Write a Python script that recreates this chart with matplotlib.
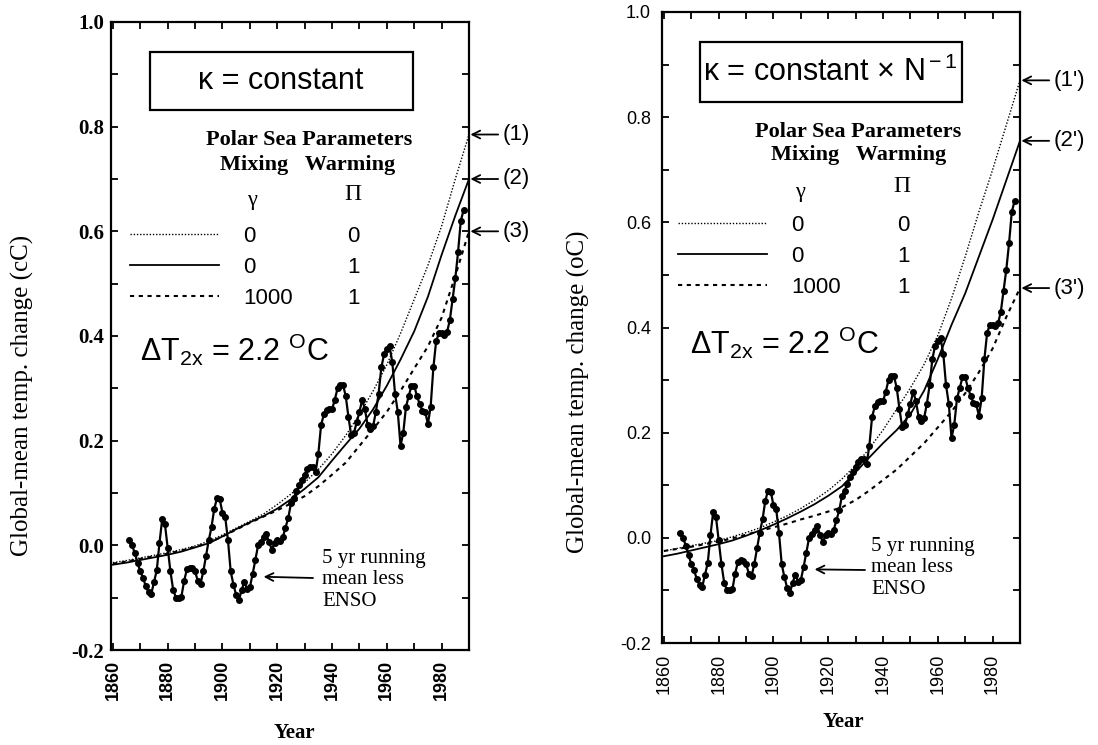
import matplotlib
matplotlib.use("Agg")
import matplotlib.pyplot as plt
from matplotlib.patches import Rectangle
from matplotlib.lines import Line2D
from matplotlib.ticker import MultipleLocator, FuncFormatter

# observed: 5 yr running mean less ENSO (same in both panels)
obs_years = list(range(1866, 1989))
obs_temp = [
    0.01, 0.0, -0.015, -0.033, -0.05, -0.062, -0.078, -0.09, -0.093, -0.07,      # 1866-1875
    -0.048, 0.005, 0.05, 0.04, -0.005, -0.05, -0.085, -0.1, -0.1, -0.098,       # 1876-1885
    -0.068, -0.046, -0.043, -0.044, -0.05, -0.068, -0.073, -0.05, -0.02, 0.01,  # 1886-1895
    0.035, 0.07, 0.09, 0.088, 0.062, 0.054, 0.01, -0.05, -0.075, -0.095,        # 1896-1905
    -0.105, -0.085, -0.07, -0.084, -0.08, -0.055, -0.028, 0.0, 0.007, 0.015,    # 1906-1915
    0.022, 0.006, -0.008, 0.005, 0.01, 0.008, 0.015, 0.034, 0.052, 0.08,        # 1916-1925
    0.09, 0.103, 0.115, 0.125, 0.135, 0.145, 0.15, 0.15, 0.14, 0.175,           # 1926-1935
    0.23, 0.25, 0.258, 0.26, 0.26, 0.278, 0.3, 0.307, 0.307, 0.285,             # 1936-1945
    0.245, 0.21, 0.215, 0.235, 0.255, 0.278, 0.26, 0.23, 0.222, 0.228,          # 1946-1955
    0.255, 0.29, 0.34, 0.365, 0.375, 0.38, 0.35, 0.29, 0.255, 0.19,             # 1956-1965
    0.215, 0.265, 0.285, 0.305, 0.305, 0.285, 0.27, 0.257, 0.255, 0.232,        # 1966-1975
    0.265, 0.34, 0.39, 0.405, 0.405, 0.402, 0.408, 0.43, 0.47, 0.51,            # 1976-1985
    0.56, 0.62, 0.64,                                                           # 1986-1988
]

# model runs, every 5 years 1860-1990
model_years = list(range(1860, 1991, 5))
# left: kappa = constant
left_dotted = [-0.033, -0.029, -0.024, -0.019, -0.014, -0.008, -0.001, 0.008, 0.02, 0.033,
               0.046, 0.06, 0.078, 0.098, 0.12, 0.145, 0.175, 0.21, 0.25, 0.295,
               0.345, 0.405, 0.47, 0.535, 0.61, 0.70, 0.785]
left_solid = [-0.037, -0.033, -0.028, -0.023, -0.018, -0.012, -0.004, 0.004, 0.017, 0.031,
              0.044, 0.056, 0.07, 0.088, 0.108, 0.13, 0.162, 0.193, 0.223, 0.26,
              0.305, 0.355, 0.409, 0.475, 0.555, 0.63, 0.70]
left_dashed = [-0.035, -0.031, -0.026, -0.021, -0.016, -0.01, -0.003, 0.005, 0.017, 0.03,
               0.043, 0.055, 0.067, 0.08, 0.094, 0.113, 0.135, 0.158, 0.19, 0.222,
               0.255, 0.295, 0.338, 0.38, 0.435, 0.515, 0.60]
# right: kappa = constant x N^-1
right_dotted = [-0.025, -0.02, -0.015, -0.01, -0.005, 0.002, 0.01, 0.019, 0.03, 0.042,
                0.056, 0.072, 0.09, 0.112, 0.138, 0.17, 0.205, 0.245, 0.285, 0.33,
                0.385, 0.455, 0.535, 0.62, 0.70, 0.785, 0.87]
right_solid = [-0.035, -0.03, -0.024, -0.018, -0.012, -0.005, 0.004, 0.014, 0.025, 0.037,
               0.05, 0.064, 0.08, 0.098, 0.125, 0.153, 0.18, 0.205, 0.235, 0.28,
               0.34, 0.405, 0.465, 0.535, 0.605, 0.68, 0.755]
right_dashed = [-0.025, -0.021, -0.017, -0.012, -0.007, -0.001, 0.006, 0.013, 0.02, 0.027,
                0.035, 0.042, 0.05, 0.058, 0.072, 0.09, 0.11, 0.13, 0.155, 0.18,
                0.21, 0.24, 0.275, 0.315, 0.36, 0.42, 0.475]

gamma_vals = ["0", "0", "1000"]
pi_vals = ["0", "1", "1"]
year_ticks = list(range(1860, 1981, 20))

W, H = 1098, 745
plt.rcParams['font.family'] = ['Liberation Sans', 'DejaVu Sans']
plt.rcParams['mathtext.fontset'] = 'custom'
plt.rcParams['mathtext.rm'] = 'Liberation Sans'
plt.rcParams['mathtext.it'] = 'Liberation Sans:italic'
plt.rcParams['mathtext.bf'] = 'Liberation Sans:bold'
plt.rcParams['axes.unicode_minus'] = False

SERIF = ['Liberation Serif', 'DejaVu Serif']

fig = plt.figure(figsize=(W / 100, H / 100), dpi=100)


def fp(x, y):
    # pixel position in the picture -> figure fraction
    return x / W, 1 - y / H


def panel(cfg, dotted, solid, dashed, end_labels):
    x0, y0, x1, y1 = cfg['rect']
    ax = fig.add_axes([x0 / W, 1 - y1 / H, (x1 - x0) / W, (y1 - y0) / H])
    ax.set_xlim(1859.3, 1990)
    ax.set_ylim(-0.2, 1.0)

    l1, = ax.plot(model_years, dotted, color='black', lw=1.0, linestyle=(0, (1, 1.3)))
    l2, = ax.plot(model_years, solid, color='black', lw=1.3)
    l3, = ax.plot(model_years, dashed, color='black', lw=1.5, linestyle=(0, (2, 2.2)))
    ax.plot(obs_years, obs_temp, color='black', lw=1.6, marker='o', ms=4)

    for sp in ax.spines.values():
        sp.set_linewidth(1.6)
    ax.xaxis.set_minor_locator(MultipleLocator(10))
    ax.yaxis.set_major_locator(MultipleLocator(0.2))
    ax.yaxis.set_minor_locator(MultipleLocator(0.1))
    ax.set_xticks(year_ticks)
    ax.yaxis.set_major_formatter(FuncFormatter(lambda v, p: f"{v:.1f}"))
    ax.tick_params(which='both', direction='in', top=True, right=True, length=5, width=1.3)
    ax.tick_params(axis='y', pad=cfg['ypad'])
    ax.tick_params(axis='x', pad=cfg['xpad'])
    for t in ax.get_yticklabels():
        t.set_fontfamily(cfg['yfont'])
        t.set_fontweight(cfg['yweight'])
        t.set_fontsize(cfg['ysize'])
    for t in ax.get_xticklabels():
        t.set_rotation(90)
        t.set_fontweight(cfg['xweight'])
        t.set_fontsize(13)

    fig.text(*fp(*cfg['ylabel_pos']), cfg['ylabel'], rotation=90, ha='center', va='center',
             family=SERIF, fontsize=18)
    fig.text(*fp(*cfg['year_pos']), "Year", ha='center', va='center', family=SERIF,
             fontweight='bold', fontsize=15)

    # title box
    bx0, by0, bx1, by1 = cfg['box']
    fig.patches.append(Rectangle(fp(bx0, by1), (bx1 - bx0) / W, (by1 - by0) / H,
                                 transform=fig.transFigure, fill=False, ec='black', lw=1.6))
    fig.text(*fp(*cfg['title_pos']), cfg['title'], ha='center', va='center', fontsize=22)

    fig.text(*fp(*cfg['polar_pos']), "Polar Sea Parameters", ha='center', va='center',
             family=SERIF, fontweight='bold', fontsize=16)
    fig.text(*fp(*cfg['mixing_pos']), "Mixing   Warming", ha='center', va='center',
             family=SERIF, fontweight='bold', fontsize=16)
    fig.text(*fp(*cfg['gamma_pos']), "γ", ha='center', va='center', family=SERIF, fontsize=16)
    fig.text(*fp(*cfg['pi_pos']), "Π", ha='center', va='center', family=SERIF, fontsize=17)

    # legend: line samples with gamma, then the Pi column
    leg = ax.legend([l1, l2, l3], gamma_vals, loc='upper left',
                    bbox_to_anchor=fp(*cfg['leg_anchor']), bbox_transform=fig.transFigure,
                    frameon=False, fontsize=16, borderpad=0, borderaxespad=0,
                    handlelength=4.0, handletextpad=1.1, labelspacing=0.45)
    ax.add_artist(leg)
    blank = [Line2D([], [], lw=0)] * 3
    ax.legend(blank, pi_vals, loc='upper left',
              bbox_to_anchor=fp(*cfg['pi_anchor']), bbox_transform=fig.transFigure,
              frameon=False, fontsize=16, borderpad=0, borderaxespad=0,
              handlelength=0, handletextpad=0, labelspacing=0.45)

    fig.text(*fp(*cfg['dt_pos']), r"ΔT$_{\rm 2x}$ = 2.2 $^{\rm O}$C", ha='left', va='center',
             fontsize=22)

    # arrows to the curve ends
    for lab, series in zip(end_labels, [dotted, solid, dashed]):
        ax.annotate(lab, xy=(1990, series[-1]), xytext=(24, 0), textcoords='offset points',
                    ha='left', va='center', fontsize=16, annotation_clip=False,
                    arrowprops=dict(arrowstyle='->', lw=1.3, shrinkA=1, shrinkB=1,
                                    mutation_scale=14))

    fig.text(*fp(*cfg['enso_pos']), "5 yr running\nmean less\nENSO", ha='left', va='center',
             family=SERIF, fontsize=15, linespacing=1.15)
    ax.annotate('', xy=(1914.5, -0.06), xytext=fp(*cfg['enso_arrow']),
                textcoords='figure fraction',
                arrowprops=dict(arrowstyle='->', lw=1.3, shrinkA=0, shrinkB=1, mutation_scale=14))
    return ax


left_cfg = dict(
    rect=(111, 22, 469, 650), ypad=5, xpad=7, yfont=SERIF, yweight='bold', ysize=15,
    xweight='bold',
    ylabel="Global-mean temp. change (cC)", ylabel_pos=(22, 395), year_pos=(294, 733),
    box=(150, 52, 413, 110), title="κ = constant", title_pos=(281, 81),
    polar_pos=(309, 140), mixing_pos=(308, 165), gamma_pos=(252, 200), pi_pos=(353, 195),
    leg_anchor=(130, 226), pi_anchor=(347, 226), dt_pos=(140, 350),
    enso_pos=(322, 580), enso_arrow=(313, 578),
)
right_cfg = dict(
    rect=(662, 12, 1020, 643), ypad=8, xpad=8, yfont=['Liberation Sans'], yweight='normal',
    ysize=13, xweight='normal',
    ylabel="Global-mean temp. change (oC)", ylabel_pos=(578, 392), year_pos=(843, 722),
    box=(700, 42, 962, 102), title=r"κ = constant × N$^{\rm -1}$", title_pos=(830, 72),
    polar_pos=(858, 132), mixing_pos=(859, 155), gamma_pos=(800, 192), pi_pos=(902, 187),
    leg_anchor=(678, 215), pi_anchor=(897, 215), dt_pos=(690, 343),
    enso_pos=(871, 568), enso_arrow=(865, 570),
)

panel(left_cfg, left_dotted, left_solid, left_dashed, ["(1)", "(2)", "(3)"])
panel(right_cfg, right_dotted, right_solid, right_dashed, ["(1')", "(2')", "(3')"])

fig.savefig("out.png", dpi=100, facecolor='white')
